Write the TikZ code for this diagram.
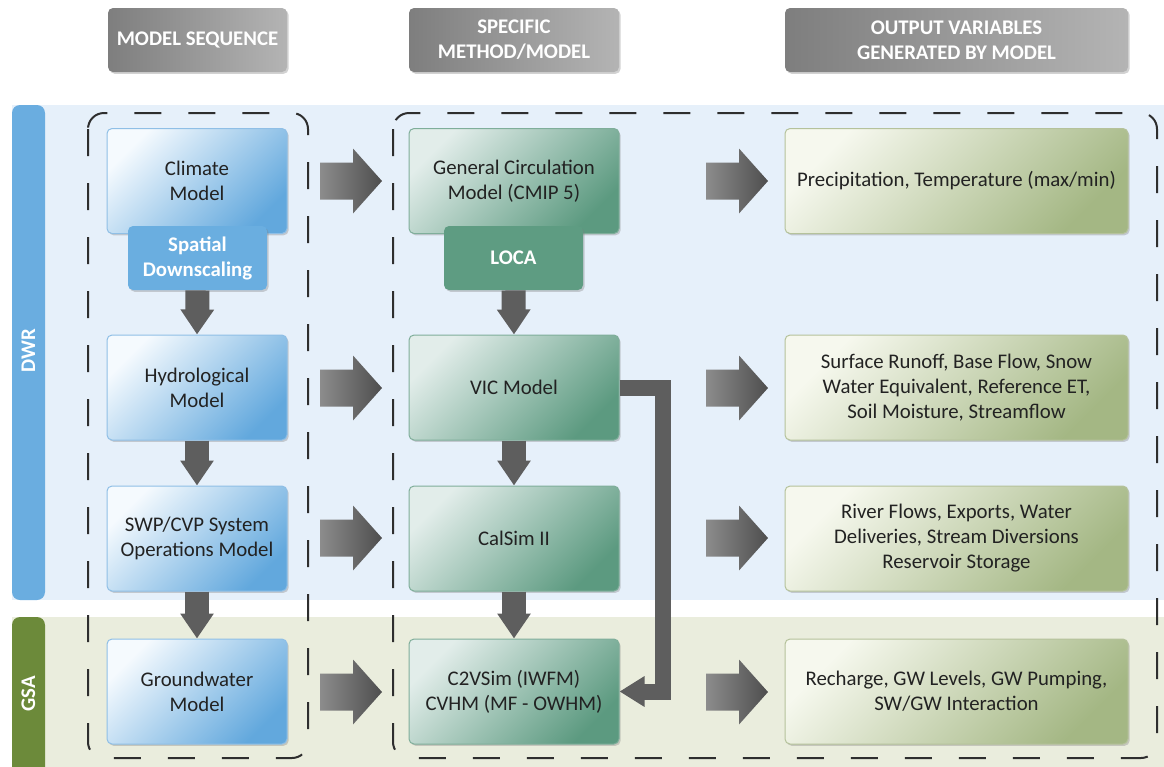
\documentclass[tikz,border=0pt]{standalone}
\usepackage{fontspec}
\setmainfont{Carlito}
\usetikzlibrary{arrows.meta,shadows,calc}
\definecolor{txt}{HTML}{222222}
\definecolor{bandB}{HTML}{E6F0FA}
\definecolor{bandG}{HTML}{EAEDDD}
\definecolor{barB}{HTML}{6AADE0}
\definecolor{barG}{HTML}{6C8A3A}
\definecolor{blueA}{HTML}{F5FAFE}
\definecolor{blueB}{HTML}{62A8DD}
\definecolor{blueE}{HTML}{8FBFE6}
\definecolor{grnA}{HTML}{E2EDEA}
\definecolor{grnB}{HTML}{5C9A80}
\definecolor{grnE}{HTML}{7FAE9A}
\definecolor{outA}{HTML}{F6F8EE}
\definecolor{outB}{HTML}{A4B784}
\definecolor{outE}{HTML}{B5C29B}
\definecolor{hdA}{HTML}{7E7E7E}
\definecolor{hdB}{HTML}{B4B4B4}
\definecolor{arrL}{HTML}{8C8C8C}
\definecolor{arrR}{HTML}{4E4E4E}
\definecolor{arrC}{HTML}{5E5E5E}
\definecolor{dsB}{HTML}{6AAEE0}
\definecolor{locaC}{HTML}{5E9C82}
\newcommand\blockarrow[2]{%
  \shade[left color=arrL,right color=arrR] (#1,#2) ++(0,-18.5) -- ++(33,0) -- ++(0,-14) -- ++(29,32.5) -- ++(-29,32.5) -- ++(0,-14) -- ++(-33,0) -- cycle;}
\begin{document}
\begin{tikzpicture}[x=0.5pt,y=-0.5pt,
  font=\fontsize{10.4}{12.5}\selectfont,
  shd/.style={drop shadow={shadow xshift=0.8pt,shadow yshift=-0.9pt,opacity=0.35}},
  box/.style={rounded corners=2.5pt, line width=0.5pt, align=center, text=txt, inner sep=0pt, shd},
  bluebox/.style={box, draw=blueE, top color=blueA, bottom color=blueB, shading angle=45, minimum width=90pt, minimum height=52.5pt},
  grnbox/.style={box, draw=grnE, top color=grnA, bottom color=grnB, shading angle=45, minimum width=105pt, minimum height=52.5pt},
  outbox/.style={box, draw=outE, top color=outA, bottom color=outB, shading angle=45, minimum width=171.5pt, minimum height=52.5pt},
  subbox/.style={rounded corners=2.5pt, align=center, text=white, font=\fontsize{10.4}{12.5}\selectfont\bfseries, inner sep=0pt, minimum width=69.5pt, minimum height=32pt, shd},
  header/.style={rounded corners=2.5pt, left color=hdA, right color=hdB, text=white, align=center, inner sep=0pt, font=\fontsize{10.4}{12.5}\selectfont\bfseries, minimum height=32pt, shd},
  dashbox/.style={draw=black!82, line width=1pt, dash pattern=on 13.5pt off 13.5pt, rounded corners=8pt},
  varrow/.style={draw=arrC, line width=12pt, -{Triangle[width=16pt,length=12.5pt]}},
  bentarrow/.style={draw=arrC, line width=8pt, line join=miter, -{Triangle[width=14.5pt,length=12.5pt]}},
  barlabel/.style={rotate=90, text=white, font=\fontsize{10.4}{12}\selectfont\bfseries}
]
\useasboundingbox (0,0) rectangle (1164,767);
\fill[white] (0,0) rectangle (1164,767);
% bands
\fill[bandB] (12,105) rectangle (1164,600);
\fill[bandG] (12,617) rectangle (1164,767);
\fill[barB, rounded corners=4pt] (12,105) rectangle (45,600);
\fill[barG, rounded corners=4pt] (12,617) rectangle (45,780);
\node[barlabel] (dwr) at (28.5,351) {DWR};
\node[barlabel] (gsa) at (28.5,694) {GSA};
% headers
\node[header, minimum width=89.5pt] (h1) at (197.5,40) {MODEL SEQUENCE};
\node[header, minimum width=105pt] (h2) at (514,40) {SPECIFIC\\METHOD/MODEL};
\node[header, minimum width=171.5pt] (h3) at (956.5,40) {OUTPUT VARIABLES\\GENERATED BY MODEL};
% dashed frames
\draw[dashbox] (88,113) rectangle (308,758);
\draw[dashbox] (393,113) rectangle (1157,758);
% left column
\node[bluebox] (climate) at (197,181) {Climate\\Model};
\node[subbox, fill=dsB] (down) at (197.5,258) {Spatial\\Downscaling};
\node[bluebox] (hydro) at (197,387.5) {Hydrological\\Model};
\node[bluebox] (swp) at (197,538.5) {SWP/CVP System\\Operations Model};
\node[bluebox] (gw) at (197,691.5) {Groundwater\\Model};
% middle column
\node[grnbox] (gcm) at (514,181) {General Circulation\\Model (CMIP 5)};
\node[subbox, fill=locaC] (loca) at (513.5,258) {LOCA};
\node[grnbox] (vic) at (514,387.5) {VIC Model};
\node[grnbox] (calsim) at (514,538.5) {CalSim II};
\node[grnbox] (c2v) at (514,691.5) {C2VSim (IWFM)\\CVHM (MF - OWHM)};
% outputs
\node[outbox] (o1) at (956.5,181) {Precipitation, Temperature (max/min)};
\node[outbox] (o2) at (956.5,387.5) {Surface Runoff, Base Flow, Snow\\Water Equivalent, Reference ET,\\Soil Moisture, Streamflow};
\node[outbox] (o3) at (956.5,538.5) {River Flows, Exports, Water\\Deliveries, Stream Diversions\\Reservoir Storage};
\node[outbox] (o4) at (956.5,691.5) {Recharge, GW Levels, GW Pumping,\\SW/GW Interaction};
% vertical arrows
\draw[varrow] (down.south) -- (hydro.north);
\draw[varrow] (hydro.south) -- (swp.north);
\draw[varrow] (swp.south) -- (gw.north);
\draw[varrow] (loca.south) -- (vic.north);
\draw[varrow] (vic.south) -- (calsim.north);
\draw[varrow] (calsim.south) -- (c2v.north);
% bent arrow
\draw[bentarrow] (vic.east) -- ++(43,0) |- (c2v.east);
% block arrows
\blockarrow{320}{181}
\blockarrow{320}{388}
\blockarrow{320}{538}
\blockarrow{320}{692}
\blockarrow{706}{181}
\blockarrow{706}{388}
\blockarrow{706}{538}
\blockarrow{706}{692}
\end{tikzpicture}
\end{document}
